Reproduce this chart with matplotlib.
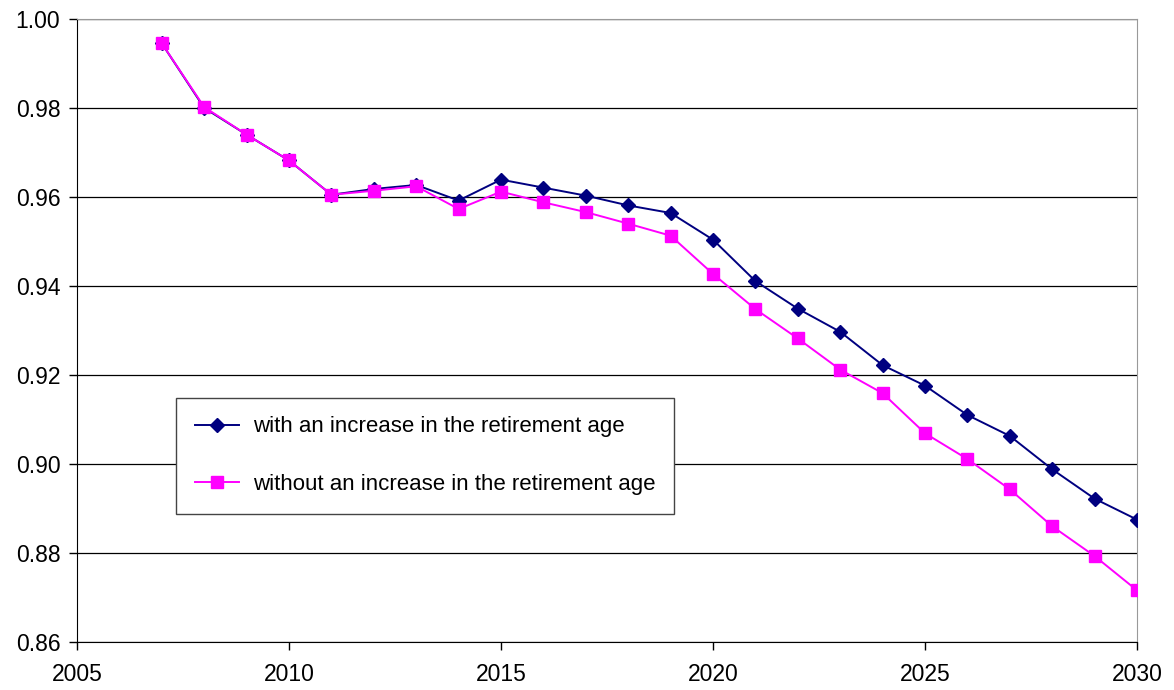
import matplotlib
matplotlib.use("Agg")
import matplotlib.pyplot as plt

# ---------------------------------------------
# Data
# ---------------------------------------------
years = list(range(2007, 2031))

with_increase = [
    0.9945, 0.9800, 0.9740, 0.9682, 0.9605, 0.9618, 0.9627, 0.9592,
    0.9639, 0.9621, 0.9603, 0.9581, 0.9564, 0.9504, 0.9411, 0.9349,
    0.9297, 0.9222, 0.9176, 0.9110, 0.9063, 0.8988, 0.8922, 0.8875,
]
without_increase = [
    0.9945, 0.9802, 0.9740, 0.9682, 0.9605, 0.9614, 0.9624, 0.9573,
    0.9612, 0.9588, 0.9566, 0.9540, 0.9513, 0.9427, 0.9348, 0.9282,
    0.9212, 0.9159, 0.9069, 0.9011, 0.8943, 0.8860, 0.8793, 0.8716,
]

labels = [
    "with an increase in the retirement age",
    "without an increase in the retirement age",
]
x_ticks = [2005, 2010, 2015, 2020, 2025, 2030]
y_ticks = [0.86, 0.88, 0.90, 0.92, 0.94, 0.96, 0.98, 1.00]

plt.rcParams["font.family"] = ["Liberation Sans", "DejaVu Sans"]

fig = plt.figure(figsize=(11.74, 6.9), dpi=100)
ax = fig.add_axes([0.0656, 0.0696, 0.9029, 0.9029])

ax.plot(years, with_increase, color="#000080", lw=1.4, marker="D",
        markersize=7.5, label=labels[0], zorder=3)
ax.plot(years, without_increase, color="#FF00FF", lw=1.4, marker="s",
        markersize=8, label=labels[1], zorder=4)

ax.set_xlim(2005, 2030)
ax.set_ylim(0.86, 1.00)
ax.set_xticks(x_ticks)
ax.set_yticks(y_ticks)
ax.set_yticklabels([f"{v:.2f}" for v in y_ticks])
ax.tick_params(labelsize=16.5, direction="out", length=6, width=1, pad=6)
ax.tick_params(axis="x", pad=9)
ax.grid(axis="y", color="black", lw=0.9)
ax.set_axisbelow(True)

for side in ("top", "right"):
    ax.spines[side].set_color("#999999")
for side in ("left", "bottom"):
    ax.spines[side].set_color("black")

leg = ax.legend(loc="lower left", bbox_to_anchor=(0.0934, 0.2055),
                fontsize=16, frameon=True, fancybox=False, framealpha=1,
                edgecolor="#444444", borderpad=0.85, labelspacing=1.65,
                handlelength=2.0, handletextpad=0.6, borderaxespad=0)
leg.get_frame().set_linewidth(1.0)

fig.savefig("out.png", dpi=100)
